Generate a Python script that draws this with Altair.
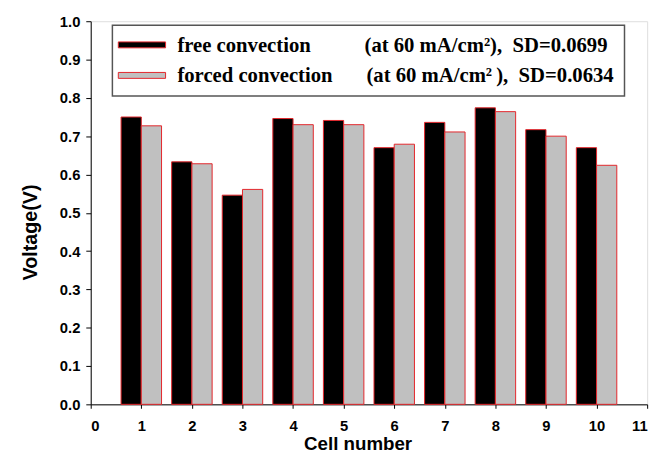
import altair as alt
import pandas as pd

cells = [1, 2, 3, 4, 5, 6, 7, 8, 9, 10]
free_convection = [0.750, 0.633, 0.546, 0.746, 0.741, 0.670, 0.736, 0.774, 0.717, 0.670]
forced_convection = [0.727, 0.628, 0.561, 0.730, 0.730, 0.679, 0.711, 0.764, 0.700, 0.624]
series_names = ["free convection", "forced convection"]
legend_notes = ["(at 60 mA/cm\u00b2),\u00a0 SD=0.0699", "(at 60 mA/cm\u00b2\u2009),\u00a0 SD=0.0634"]
x_ticks = list(range(0, 12))
y_ticks = [round(i * 0.1, 1) for i in range(11)]

RED = "#e3262b"
GRAY = "#c0c0c0"

rows = []
for c, a, b in zip(cells, free_convection, forced_convection):
    rows.append({"cell": c, "series": series_names[0], "value": a})
    rows.append({"cell": c, "series": series_names[1], "value": b})
df = pd.DataFrame(rows)

color_scale = alt.Scale(domain=series_names, range=["#000000", GRAY])

bars = (
    alt.Chart(df)
    .transform_calculate(
        x0=f"datum.series == '{series_names[0]}' ? datum.cell - 0.4 : datum.cell",
        x1=f"datum.series == '{series_names[0]}' ? datum.cell : datum.cell + 0.4",
    )
    .mark_rect(stroke=RED, strokeWidth=1)
    .encode(
        x=alt.X(
            "x0:Q",
            scale=alt.Scale(domain=[0, 11], nice=False, zero=False),
            axis=alt.Axis(
                values=x_ticks,
                title="Cell number",
                tickSize=4,
                labelPadding=11,
                labelFontSize=15,
                labelFontWeight="bold",
                titleFontSize=19,
                titleFontWeight="bold",
                titleBaseline="middle",
                titleAlign="center",
                titleX=271,
                titleY=40,
                grid=False,
                domainColor="black",
                tickColor="black",
                labelColor="black",
                titleColor="black",
            ),
        ),
        x2="x1:Q",
        y=alt.Y(
            "value:Q",
            scale=alt.Scale(domain=[0, 1], nice=False),
            axis=alt.Axis(
                values=y_ticks,
                format=".1f",
                title="Voltage(V)",
                tickSize=5,
                labelPadding=6,
                labelFontSize=15,
                labelFontWeight="bold",
                titleFontSize=20,
                titleFontWeight="bold",
                titleBaseline="middle",
                titleAlign="center",
                titleAngle=270,
                titleX=-61,
                titleY=214,
                grid=False,
                domainColor="black",
                tickColor="black",
                labelColor="black",
                titleColor="black",
            ),
        ),
        y2=alt.datum(0),
        color=alt.Color("series:N", scale=color_scale, legend=None),
    )
)

leg_df = pd.DataFrame({"series": series_names, "note": legend_notes, "row": [0, 1]})

legend_box = (
    alt.Chart(pd.DataFrame({"k": [0]}))
    .mark_rect(fill="white", stroke="#555555", strokeWidth=1.5)
    .encode(x=alt.value(22), x2=alt.value(542), y=alt.value(4), y2=alt.value(76))
)

sym1 = (
    alt.Chart(leg_df.iloc[[0]])
    .mark_rect(stroke=RED, strokeWidth=1)
    .encode(
        x=alt.value(28), x2=alt.value(76), y=alt.value(21), y2=alt.value(27),
        color=alt.Color("series:N", scale=color_scale, legend=None),
    )
)
sym2 = (
    alt.Chart(leg_df.iloc[[1]])
    .mark_rect(stroke=RED, strokeWidth=1)
    .encode(
        x=alt.value(28), x2=alt.value(76), y=alt.value(52), y2=alt.value(58),
        color=alt.Color("series:N", scale=color_scale, legend=None),
    )
)

txt_style = dict(font="Liberation Serif", fontSize=21, fontWeight="bold", color="black",
                 align="left", baseline="alphabetic")

name1 = alt.Chart(leg_df.iloc[[0]]).mark_text(**txt_style).encode(
    x=alt.value(88), y=alt.value(31), text="series:N")
name2 = alt.Chart(leg_df.iloc[[1]]).mark_text(**txt_style).encode(
    x=alt.value(88), y=alt.value(62), text="series:N")
note1 = alt.Chart(leg_df.iloc[[0]]).mark_text(**txt_style).encode(
    x=alt.value(278), y=alt.value(31), text="note:N")
note2 = alt.Chart(leg_df.iloc[[1]]).mark_text(**txt_style).encode(
    x=alt.value(280), y=alt.value(62), text="note:N")

chart = (
    alt.layer(bars, legend_box, sym1, sym2, name1, name2, note1, note2)
    .properties(
        width=565,
        height=389,
        autosize=alt.AutoSizeParams(type="none"),
        padding={"left": 84, "top": 10, "right": 10, "bottom": 48},
    )
    .configure_view(stroke="black", strokeWidth=1)
    .configure_axis(labelFont="Liberation Sans", titleFont="Liberation Sans", domainWidth=1, tickWidth=1)
    .configure(background="white")
)

chart.save("out.html", embed_options={"renderer": "svg", "actions": False})
